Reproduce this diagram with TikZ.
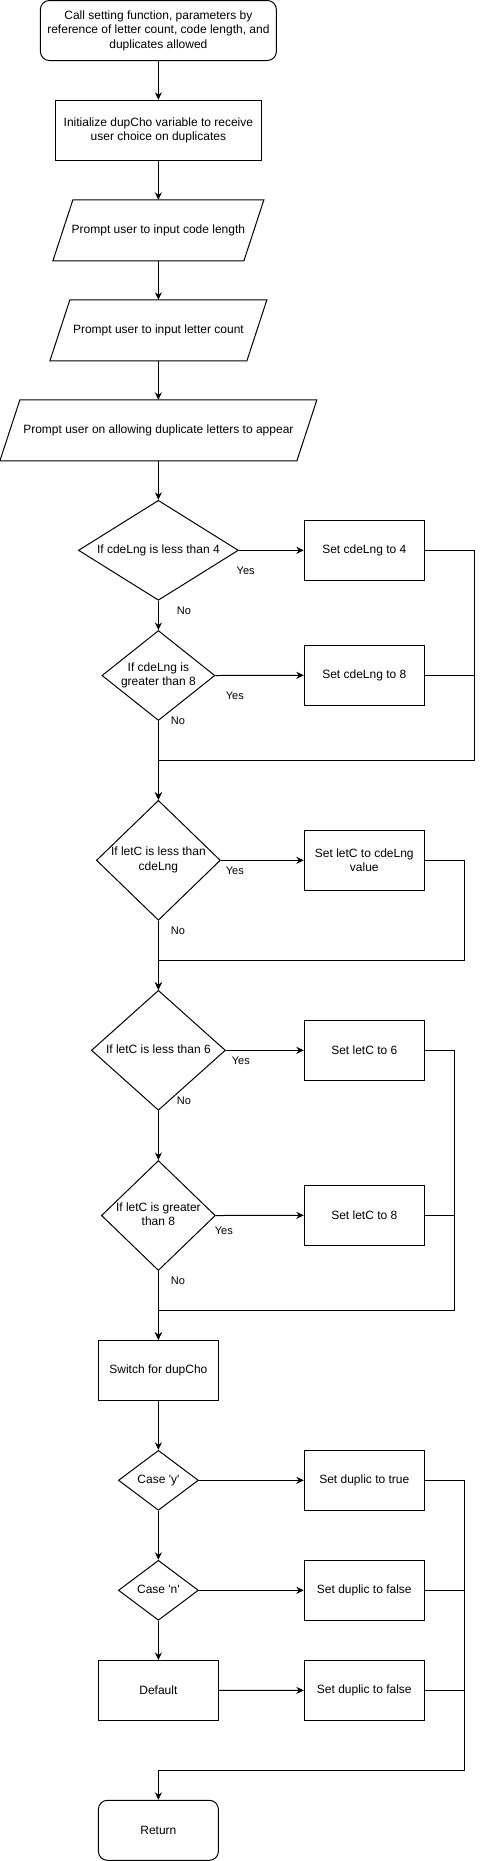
\documentclass[tikz,border=0pt]{standalone}
\usepackage{fontspec}
\setmainfont{Liberation Sans}
\usetikzlibrary{shapes.geometric,arrows.meta,calc}
\newcommand{\dtext}[1]{\makebox[0pt]{\begin{tabular}{@{}c@{}}#1\end{tabular}}}
\tikzset{
  base/.style={line width=1pt, inner sep=0pt, align=center, font=\fontsize{12}{14.4}\selectfont},
  box/.style={base, draw, rectangle, minimum width=#1, minimum height=60pt},
  box/.default=120pt,
  rbox/.style={box=#1, rounded corners=9pt},
  rbox/.default=120pt,
  para/.style={base, rectangle, minimum width=#1, minimum height=60pt},
  dec/.style 2 args={base, draw, diamond, minimum width=#1, minimum height=#2},
  lbl/.style={inner sep=0pt, font=\fontsize{11}{13}\selectfont},
  conn/.style={line width=1pt},
  arr/.style={conn, -{Stealth[length=7.5pt,width=7pt,inset=2.5pt]}},
}
\begin{document}
\begin{tikzpicture}[x=1pt,y=-1pt]
\useasboundingbox (0,0) rectangle (483,1861);
% top part
\node[rbox=236pt] (start) at (158.4,30.5) {Call setting function, parameters by\\reference of letter count, code length, and\\duplicates allowed};
\node[box=206pt] (init) at (158.4,130.3) {Initialize dupCho variable to receive\\user choice on duplicates};
\node[para=190pt] (p1) at (158.4,230.3) {Prompt user to input code length};
\node[para=196pt] (p2) at (158.4,330.3) {Prompt user to input letter count};
\node[para=296pt] (p3) at (158.4,430.3) {Prompt user on allowing duplicate letters to appear};
\foreach \n in {p1,p2,p3}
  \draw[conn] ([xshift=-10pt]\n.south west) -- ([xshift=-10pt]\n.south east) -- ([xshift=10pt]\n.north east) -- ([xshift=10pt]\n.north west) -- cycle;
% code length checks
\node[dec={160pt}{100pt}] (d1) at (158.4,550.3) {\dtext{If cdeLng is less than 4}};
\node[box] (s4) at (364.3,550.3) {Set cdeLng to 4};
\node[dec={113pt}{90pt}] (d2) at (158.4,675.5) {\dtext{If cdeLng is\\greater than 8}};
\node[box] (s8) at (364.3,675.3) {Set cdeLng to 8};
% letter count checks
\node[dec={124pt}{120pt}] (d3) at (158.4,860.3) {\dtext{If letC is less than\\cdeLng}};
\node[box] (sv) at (364.3,860.3) {Set letC to cdeLng\\value};
\node[dec={134pt}{120pt}] (d4) at (158.4,1050.3) {\dtext{If letC is less than 6}};
\node[box] (s6) at (364.3,1050.3) {Set letC to 6};
\node[dec={114pt}{110pt}] (d5) at (158.4,1215.5) {\dtext{If letC is greater\\than 8}};
\node[box] (s8b) at (364.3,1215.3) {Set letC to 8};
% switch
\node[box] (sw) at (158.4,1370.3) {Switch for dupCho};
\node[dec={80pt}{60pt}] (cy) at (158.4,1480.3) {\dtext{Case \textquotesingle y\textquotesingle}};
\node[box] (dt) at (364.3,1480.3) {Set duplic to true};
\node[dec={80pt}{60pt}] (cn) at (158.4,1590.3) {\dtext{Case \textquotesingle n\textquotesingle}};
\node[box] (df) at (364.3,1590.3) {Set duplic to false};
\node[box] (def) at (158.4,1690.5) {Default};
\node[box] (df2) at (364.3,1690.3) {Set duplic to false};
\node[rbox] (ret) at (158.4,1830.3) {Return};
% junctions
\coordinate (j1) at (158.4,760.3);
\coordinate (j2) at (158.4,960);
\coordinate (j3) at (158.4,1310.3);
\coordinate (j4) at (158.4,1770);
% connectors
\draw[arr] (start) -- (init);
\draw[arr] (init) -- (p1);
\draw[arr] (p1) -- (p2);
\draw[arr] (p2) -- (p3);
\draw[arr] (p3) -- (d1);
\draw[arr] (d1.east) -- (s4.west);
\draw[arr] (d1) -- (d2);
\draw[arr] (d2.east) -- (s8.west);
\draw[arr] (d2) -- (d3);
\draw[arr] (s4.east) -- ++(50,0) |- (j1) -- (d3.north);
\draw[conn] (s8.east) -- ++(50,0);
\draw[arr] (d3.east) -- (sv.west);
\draw[arr] (d3) -- (d4);
\draw[arr] (sv.east) -- ++(40,0) |- (j2) -- (d4.north);
\draw[arr] (d4.east) -- (s6.west);
\draw[arr] (d4) -- (d5);
\draw[arr] (d5.east) -- (s8b.west);
\draw[arr] (d5) -- (sw);
\draw[arr] (s6.east) -- ++(30,0) |- (j3) -- (sw.north);
\draw[conn] (s8b.east) -- ++(30,0);
\draw[arr] (sw) -- (cy);
\draw[arr] (cy.east) -- (dt.west);
\draw[arr] (cy) -- (cn);
\draw[arr] (cn.east) -- (df.west);
\draw[arr] (cn) -- (def);
\draw[arr] (def) -- (df2);
\draw[arr] (dt.east) -- ++(40,0) |- (j4) -- (ret.north);
\draw[conn] (df.east) -- ++(40,0);
\draw[conn] (df2.east) -- ++(40,0);
% labels
\node[lbl] (y1) at (245.7,570.7) {Yes};
\node[lbl] (n1) at (184,610.7) {No};
\node[lbl] (y2) at (234.8,695.7) {Yes};
\node[lbl] (n2) at (178,720.7) {No};
\node[lbl] (y3) at (234.8,870.7) {Yes};
\node[lbl] (n3) at (178,930.7) {No};
\node[lbl] (y4) at (240.8,1060.7) {Yes};
\node[lbl] (n4) at (184,1100.7) {No};
\node[lbl] (y5) at (223.8,1230.7) {Yes};
\node[lbl] (n5) at (178,1280.7) {No};
\end{tikzpicture}
\end{document}
